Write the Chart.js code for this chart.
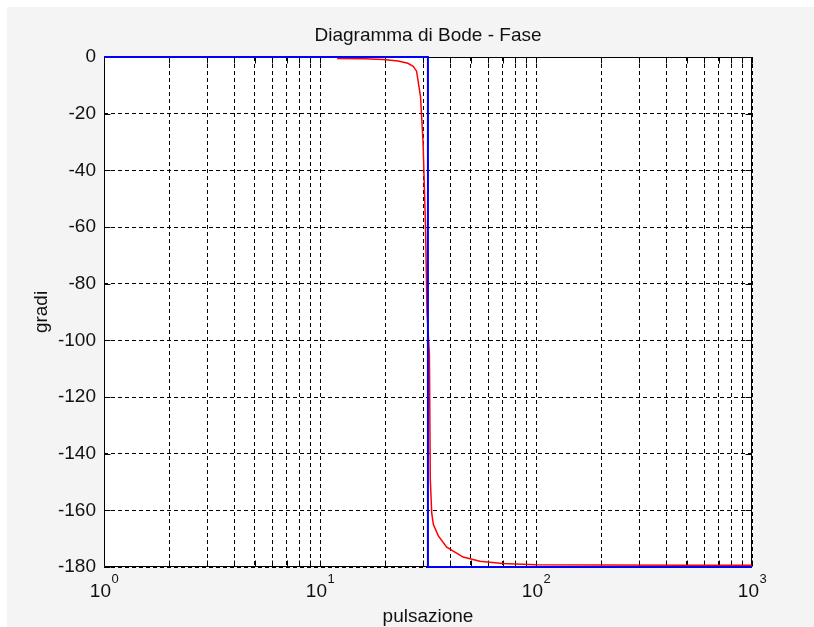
<!DOCTYPE html>
<html>
<head>
<meta charset="utf-8">
<script src="https://cdn.jsdelivr.net/npm/chart.js@4.4.1/dist/chart.umd.min.js"></script>
<style>
html,body{margin:0;padding:0;background:#fff;overflow:hidden;}
#wrap{width:814px;height:627px;position:relative;}
</style>
</head>
<body>
<div id="wrap"><canvas id="c" width="814" height="627"></canvas></div>
<script>
// ---- data ----
const titleText = 'Diagramma di Bode - Fase';
const xAxisLabel = 'pulsazione';
const yAxisLabel = 'gradi';
const xTickValues = [1,2,3,4,5,6,7,8,9,10,20,30,40,50,60,70,80,90,100,200,300,400,500,600,700,800,900,1000];
const xMajorTicks = [1,10,100,1000];
const xMajorExponents = ['0','1','2','3'];
const yTickValues = [0,-20,-40,-60,-80,-100,-120,-140,-160,-180];

// actual phase (red)
const phaseX = [12, 16, 19.6, 23, 25.5, 27, 28, 29.2, 30.0, 30.8, 31.3, 32.1, 32.4, 32.9, 33.5, 35.3, 38.6, 46, 55, 70, 100, 200, 500, 1000];
const phaseY = [-0.5, -0.6, -0.9, -1.4, -2.2, -3.3, -5, -14, -30, -60, -90, -105, -149, -161, -165, -169, -173, -176.5, -178, -178.8, -179.2, -179.3, -179.4, -179.4];

// asymptotic phase (blue)
const asymX = [1, 31.6, 31.6, 1000];
const asymY = [0, 0, -180, -180];

const FONT = '"Liberation Sans", Arial, sans-serif';
const TXT = '#111';

const toPts = (xs, ys) => xs.map((x, i) => ({x: x, y: ys[i]}));

const decorPlugin = {
  id: 'decor',
  beforeDraw(chart) {
    const ctx = chart.ctx, a = chart.chartArea;
    ctx.save();
    ctx.fillStyle = '#fff';
    ctx.fillRect(0, 0, chart.width, chart.height);
    ctx.fillStyle = '#f4f4f4';
    ctx.fillRect(7, 7, chart.width - 7, chart.height - 7);
    ctx.fillStyle = '#fff';
    ctx.fillRect(a.left, a.top, a.right - a.left, a.bottom - a.top);
    ctx.restore();
  },
  beforeDatasetsDraw(chart) {
    const ctx = chart.ctx, a = chart.chartArea;
    const xs = chart.scales.x, ys = chart.scales.y;
    ctx.save();
    ctx.strokeStyle = '#000';
    ctx.lineWidth = 1;
    ctx.setLineDash([]);
    ctx.beginPath();
    const L = Math.round(a.left) + 0.5, R = Math.round(a.right) - 0.5;
    const T = Math.round(a.top) + 0.5, B = Math.round(a.bottom) - 0.5;
    ctx.rect(L, T, R - L, B - T);
    // inward ticks
    xTickValues.forEach(v => {
      const px = Math.round(xs.getPixelForValue(v)) + 0.5;
      ctx.moveTo(px, B); ctx.lineTo(px, B - 6);
      ctx.moveTo(px, T); ctx.lineTo(px, T + 6);
    });
    yTickValues.forEach(v => {
      const py = Math.round(ys.getPixelForValue(v)) + 0.5;
      ctx.moveTo(L, py); ctx.lineTo(L + 6, py);
      ctx.moveTo(R, py); ctx.lineTo(R - 6, py);
    });
    ctx.stroke();
    ctx.restore();
  },
  afterDraw(chart) {
    const ctx = chart.ctx, a = chart.chartArea;
    const xs = chart.scales.x;
    ctx.save();
    ctx.fillStyle = TXT;
    ctx.font = '19px ' + FONT;
    ctx.textAlign = 'center';
    ctx.textBaseline = 'alphabetic';
    ctx.fillText(titleText, (a.left + a.right) / 2, 41);
    ctx.fillText(xAxisLabel, (a.left + a.right) / 2, 622);
    ctx.save();
    ctx.translate(47, (a.top + a.bottom) / 2);
    ctx.rotate(-Math.PI / 2);
    ctx.fillText(yAxisLabel, 0, 0);
    ctx.restore();
    xMajorTicks.forEach((v, i) => {
      const px = xs.getPixelForValue(v);
      ctx.font = '19px ' + FONT;
      const w1 = ctx.measureText('10').width;
      ctx.font = '13px ' + FONT;
      const w2 = ctx.measureText(xMajorExponents[i]).width;
      const start = px - (w1 + w2) / 2;
      ctx.textAlign = 'left';
      ctx.font = '19px ' + FONT;
      ctx.fillText('10', start, 597);
      ctx.font = '13px ' + FONT;
      ctx.fillText(xMajorExponents[i], start + w1 + 0.5, 583);
    });
    ctx.restore();
  }
};

new Chart(document.getElementById('c'), {
  type: 'line',
  data: {
    datasets: [
      {
        label: 'asintoti',
        data: toPts(asymX, asymY),
        borderColor: '#0000ff',
        borderWidth: 2,
        pointRadius: 0,
        tension: 0,
        fill: false,
        clip: 4,
        order: 0
      },
      {
        label: 'fase',
        data: toPts(phaseX, phaseY),
        borderColor: '#ff0000',
        borderWidth: 1.5,
        pointRadius: 0,
        tension: 0,
        fill: false,
        clip: 4,
        order: 1
      }
    ]
  },
  options: {
    responsive: false,
    animation: false,
    devicePixelRatio: 1,
    layout: { padding: { top: 57, left: 0, right: 62, bottom: 0 } },
    plugins: { legend: { display: false }, title: { display: false }, tooltip: { enabled: false } },
    scales: {
      x: {
        type: 'logarithmic',
        min: 1, max: 1000,
        afterBuildTicks: s => { s.ticks = xTickValues.map(v => ({value: v})); },
        afterFit: s => { s.height = 60; },
        ticks: { display: false },
        grid: { color: '#000', lineWidth: 1, drawTicks: false },
        border: { display: false, dash: [4, 3] }
      },
      y: {
        type: 'linear',
        min: -180, max: 0,
        afterBuildTicks: s => { s.ticks = yTickValues.map(v => ({value: v})); },
        afterFit: s => { s.width = 104; },
        ticks: { color: TXT, font: { family: FONT, size: 19 }, padding: 8 },
        grid: { color: '#000', lineWidth: 1, drawTicks: false },
        border: { display: false, dash: [4, 3] }
      }
    }
  },
  plugins: [decorPlugin]
});
</script>
</body>
</html>
